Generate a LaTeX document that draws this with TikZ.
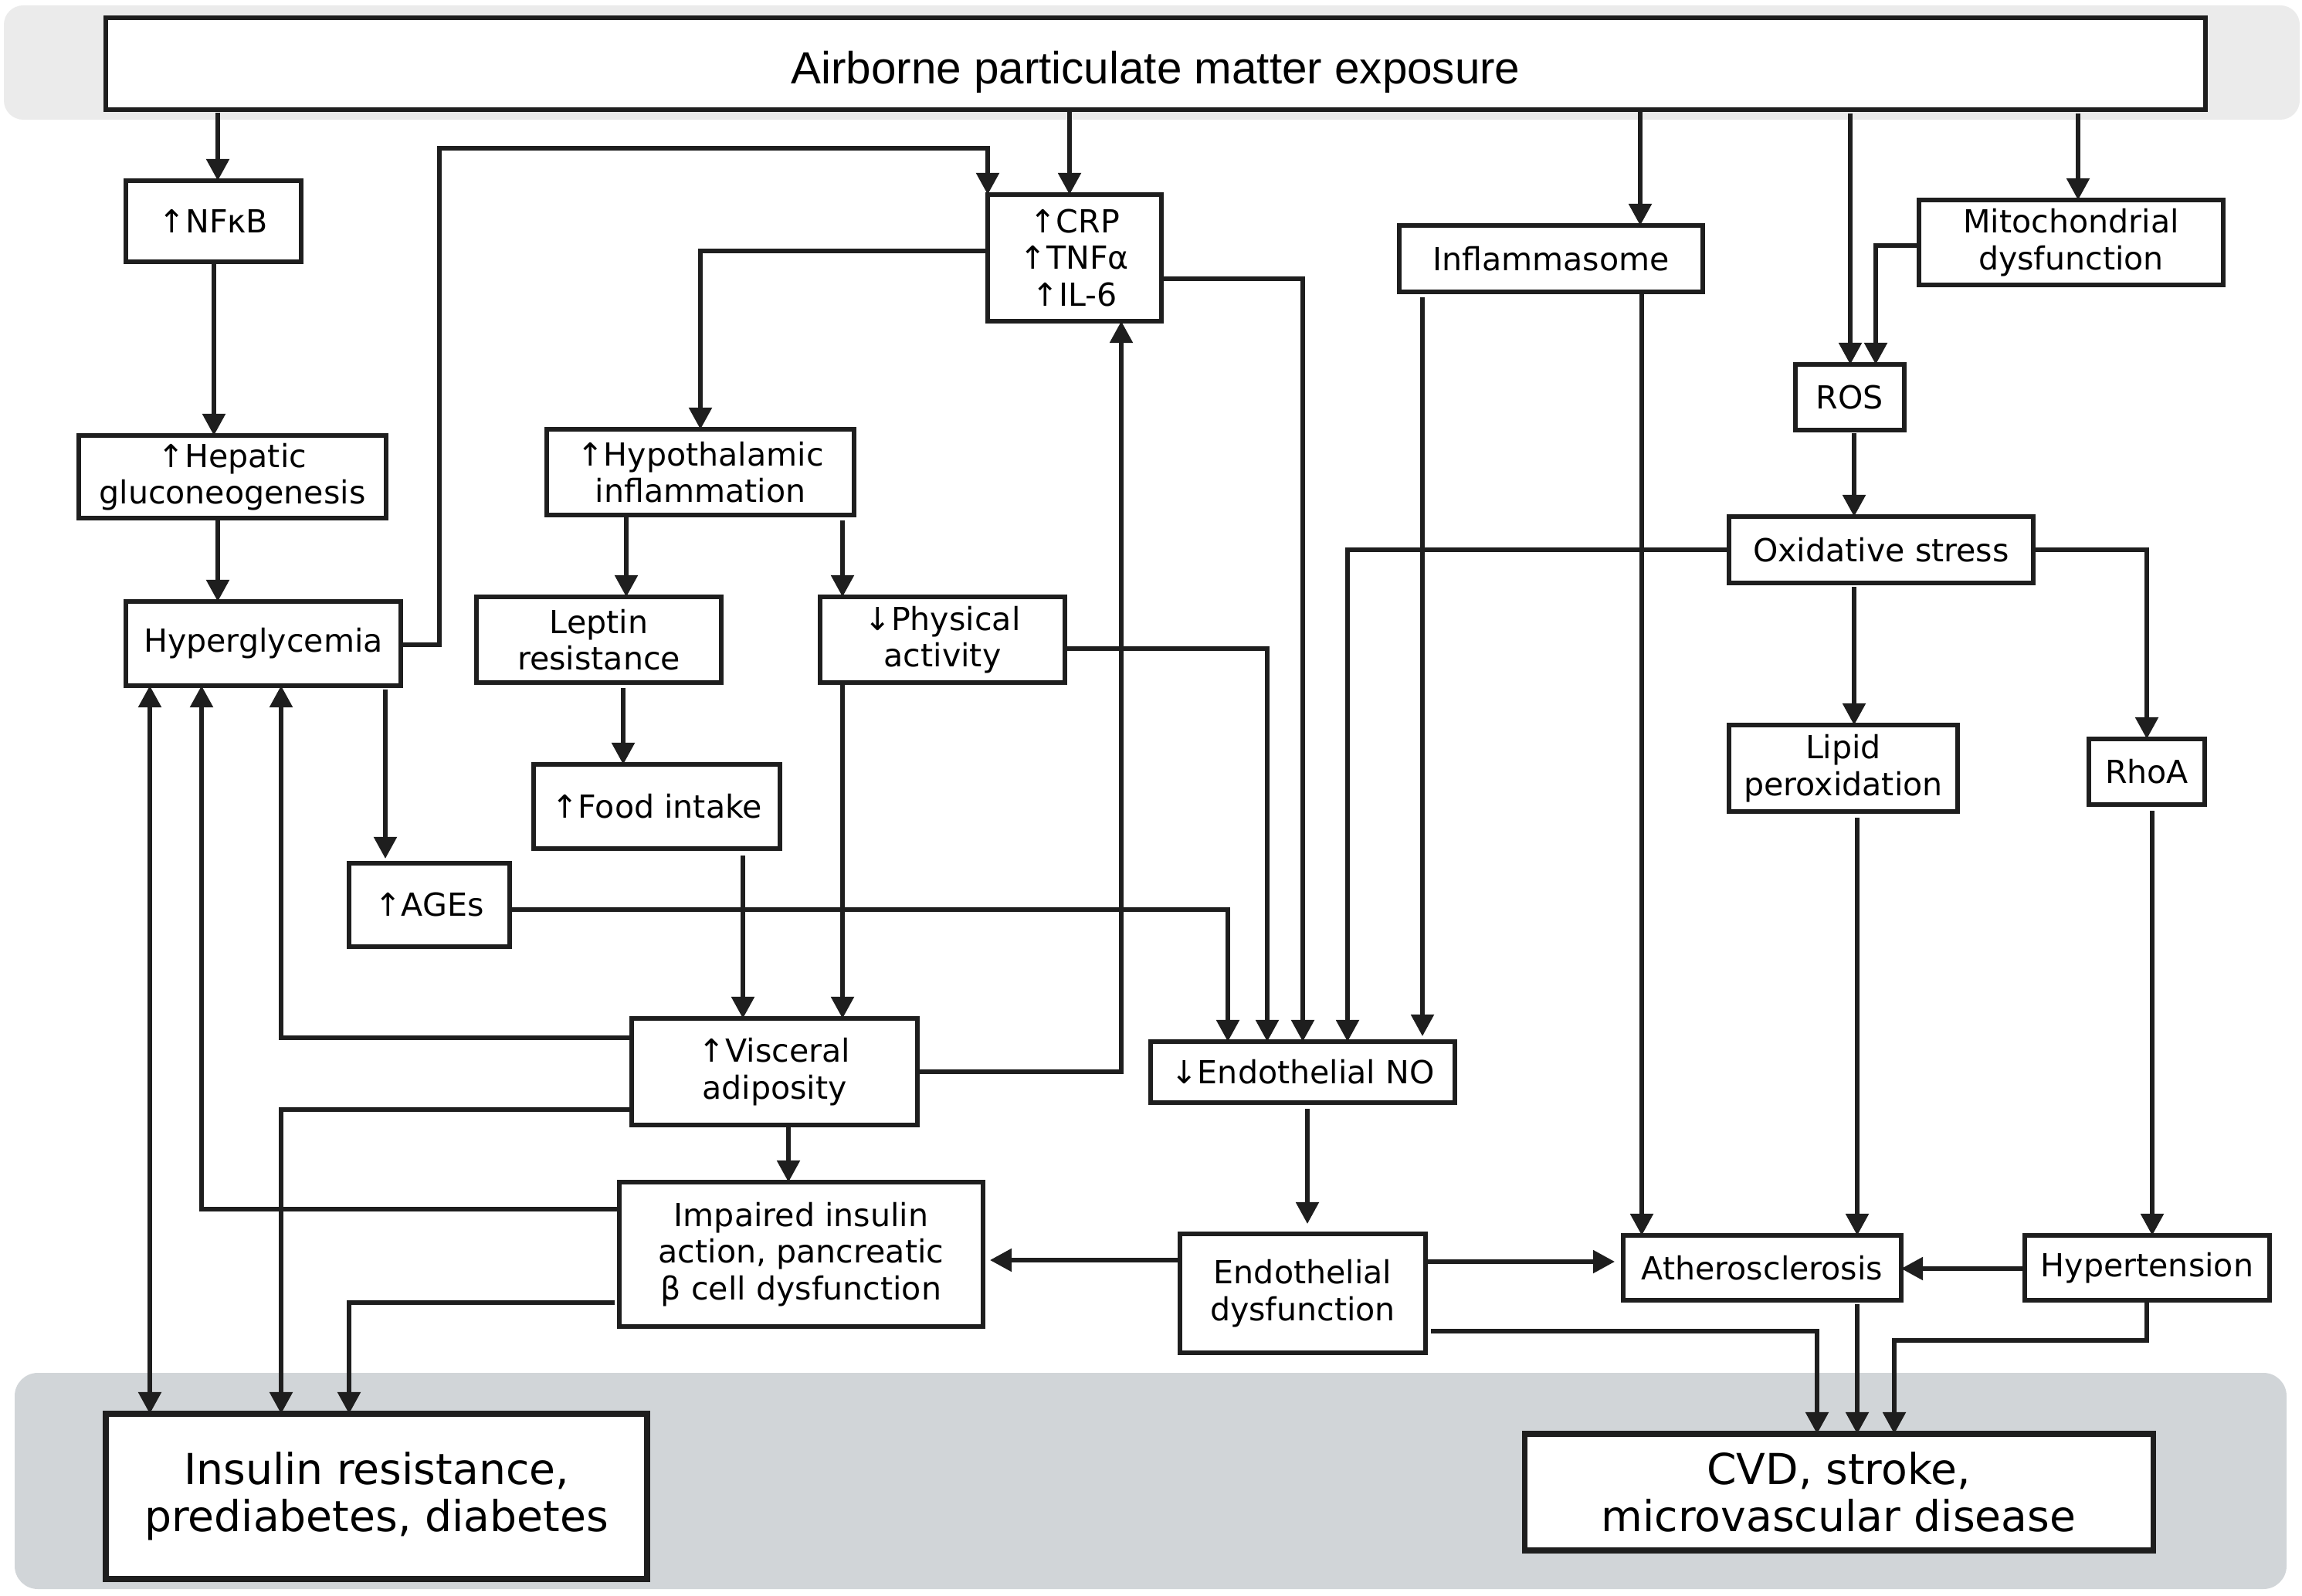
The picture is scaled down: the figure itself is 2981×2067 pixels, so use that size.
\documentclass[tikz,border=0pt]{standalone}
\usepackage{fontspec}
\setmainfont{DejaVu Sans}
\newfontfamily\titlefont{Liberation Sans}
\usetikzlibrary{arrows.meta}
\definecolor{ink}{RGB}{30,30,30}
\definecolor{bandtop}{RGB}{235,235,235}
\definecolor{bandbot}{RGB}{209,213,216}
\tikzset{
 box/.style={draw=ink, fill=white, line width=1.6pt, inner sep=0pt, outer sep=0pt, align=center, font=\fontsize{11.7}{13.5}\selectfont},
 bigbox/.style={box, line width=2pt, font=\fontsize{15.7}{17.4}\selectfont},
 titlebox/.style={box, font=\titlefont\fontsize{16.6}{20}\selectfont, text height=0.6cm, text depth=0.09cm},
 arr/.style={draw=ink, line width=1.5pt, -{Triangle[length=0.28cm,width=0.29cm]}},
 dbl/.style={draw=ink, line width=1.5pt, {Triangle[length=0.28cm,width=0.29cm]}-{Triangle[length=0.28cm,width=0.29cm]}},
}
\newcommand\boxnode[7][]{\node[box,#1, minimum width={(#5-#3)*0.01cm}, minimum height={(#6-#4)*0.01cm}] (#2) at ({(#3+#5)/2},{(#4+#6)/2}) {#7};}
\begin{document}
\begin{tikzpicture}[x=0.01cm,y=-0.01cm]
\useasboundingbox (0,0) rectangle (2981,2067);
\fill[bandtop, rounded corners=0.25cm] (5,7) rectangle (2978,155);
\fill[bandbot, rounded corners=0.3cm] (19,1778) rectangle (2961,2058);
% boxes
\boxnode[titlebox]{title}{137}{23}{2856}{142}{Airborne particulate matter exposure}
\boxnode{nfkb}{163}{234}{390}{339}{↑NFκB}
\boxnode{crp}{1279}{252}{1504}{416}{↑CRP\\↑TNFα\\↑IL-6}
\boxnode{infl}{1812}{292}{2205}{378}{Inflammasome}
\boxnode{mito}{2485}{259}{2879}{369}{Mitochondrial\\dysfunction}
\boxnode{hepatic}{102}{564}{500}{671}{↑Hepatic\\gluconeogenesis}
\boxnode{hypo}{708}{556}{1106}{667}{↑Hypothalamic\\inflammation}
\boxnode{ros}{2325}{472}{2466}{557}{ROS}
\boxnode{os}{2239}{669}{2633}{755}{Oxidative stress}
\boxnode{hyper}{163}{779}{519}{888}{Hyperglycemia}
\boxnode{leptin}{617}{773}{934}{884}{Leptin\\resistance}
\boxnode{phys}{1062}{773}{1379}{884}{↓Physical\\activity}
\boxnode{lipid}{2239}{939}{2535}{1051}{Lipid\\peroxidation}
\boxnode{rhoa}{2705}{957}{2855}{1042}{RhoA}
\boxnode{food}{691}{990}{1010}{1099}{↑Food intake}
\boxnode{ages}{452}{1118}{660}{1226}{↑AGEs}
\boxnode{vis}{818}{1319}{1188}{1457}{↑Visceral\\adiposity}
\boxnode{no}{1490}{1349}{1884}{1428}{↓Endothelial NO}
\boxnode{imp}{802}{1531}{1273}{1718}{Impaired insulin\\action, pancreatic\\β cell dysfunction}
\boxnode{ed}{1528}{1598}{1846}{1752}{Endothelial\\dysfunction}
\boxnode{athero}{2102}{1600}{2462}{1684}{Atherosclerosis}
\boxnode{hyp}{2622}{1600}{2939}{1684}{Hypertension}
\boxnode[bigbox]{ins}{137}{1831}{838}{2045}{Insulin resistance,\\prediabetes, diabetes}
\boxnode[bigbox]{cvd}{1974}{1857}{2788}{2008}{CVD, stroke,\\microvascular disease}
% connectors
\draw[arr, shorten <=0.04cm] (title.south -| 282,0) -- (nfkb.north -| 282,0);
\draw[arr] (nfkb.south -| 277,0) -- (hepatic.north -| 277,0);
\draw[arr] (hepatic.south -| 282,0) -- (hyper.north -| 282,0);
\draw[arr] (hyper.east |- 0,835) -| (569,192) -| (crp.north west);
\draw[arr] (title.south -| 1385,0) -- (crp.north -| 1385,0);
\draw[arr] (crp.west |- 0,325) -| (hypo.north);
\draw[arr] (crp.east |- 0,361) -| (no.north -| 1687,0);
\draw[arr] (title.south -| 2124,0) -- (infl.north -| 2124,0);
\draw[arr, shorten <=0.07cm, shorten >=0.07cm] (infl.south -| 1842,0) -- (no.north -| 1842,0);
\draw[arr] (infl.south -| 2126,0) -- (athero.north -| 2126,0);
\draw[arr, shorten <=0.05cm] (title.south -| 2396,0) -- (ros.north -| 2396,0);
\draw[arr, shorten <=0.05cm] (title.south -| 2691,0) -- (mito.north -| 2691,0);
\draw[arr] (mito.west |- 0,318) -| (ros.north -| 2429,0);
\draw[arr, shorten <=0.04cm] (ros.south -| 2401,0) -- (os.north -| 2401,0);
\draw[arr] (os.west |- 0,712) -| (no.north -| 1745,0);
\draw[arr] (os.east |- 0,712) -| (rhoa.north);
\draw[arr, shorten <=0.05cm] (os.south -| 2401,0) -- (lipid.north -| 2401,0);
\draw[arr, shorten <=0.08cm] (lipid.south -| 2405,0) -- (athero.north -| 2405,0);
\draw[arr, shorten <=0.08cm] (rhoa.south -| 2787,0) -- (hyp.north -| 2787,0);
\draw[arr] (hyp.west |- 0,1643) -- (athero.east |- 0,1643);
\draw[arr] (hyp.south -| 2780,0) |- (2453,1736) -- (cvd.north -| 2453,0);
\draw[arr, shorten <=0.05cm] (athero.south -| 2405,0) -- (cvd.north -| 2405,0);
\draw[arr, shorten >=0.11cm] (ed.east |- 0,1634) -- (athero.west |- 0,1634);
\draw[arr, shorten <=0.07cm] (ed.east |- 0,1724) -| (cvd.north -| 2353,0);
\draw[arr, shorten >=0.09cm] (ed.west |- 0,1632) -- (imp.east |- 0,1632);
\draw[arr, shorten <=0.08cm, shorten >=0.13cm] (no.south -| 1693,0) -- (ed.north -| 1693,0);
\draw[arr, shorten <=0.05cm, shorten >=0.06cm] (hyper.south -| 499,0) -- (ages.north -| 499,0);
\draw[arr] (ages.east |- 0,1178) -| (no.north -| 1590,0);
\draw[arr] (hypo.south -| 811,0) -- (leptin.north -| 811,0);
\draw[arr, shorten <=0.07cm] (hypo.south -| 1091,0) -- (phys.north -| 1091,0);
\draw[arr, shorten <=0.07cm] (leptin.south -| 807,0) -- (food.north -| 807,0);
\draw[arr] (phys.east |- 0,840) -| (no.north -| 1641,0);
\draw[arr] (phys.south -| 1091,0) -- (vis.north -| 1091,0);
\draw[arr, shorten <=0.09cm] (food.south -| 962,0) -- (vis.north -| 962,0);
\draw[arr] (vis.west |- 0,1344) -| (hyper.south -| 364,0);
\draw[arr] (vis.west |- 0,1437) -| (ins.north -| 364,0);
\draw[arr] (vis.east |- 0,1388) -| (crp.south -| 1452,0);
\draw[arr] (vis.south -| 1021,0) -- (imp.north -| 1021,0);
\draw[arr] (imp.west |- 0,1566) -| (hyper.south -| 261,0);
\draw[arr, shorten <=0.06cm] (imp.west |- 0,1687) -| (ins.north -| 452,0);
\draw[dbl] (hyper.south -| 194,0) -- (ins.north -| 194,0);
\end{tikzpicture}
\end{document}
